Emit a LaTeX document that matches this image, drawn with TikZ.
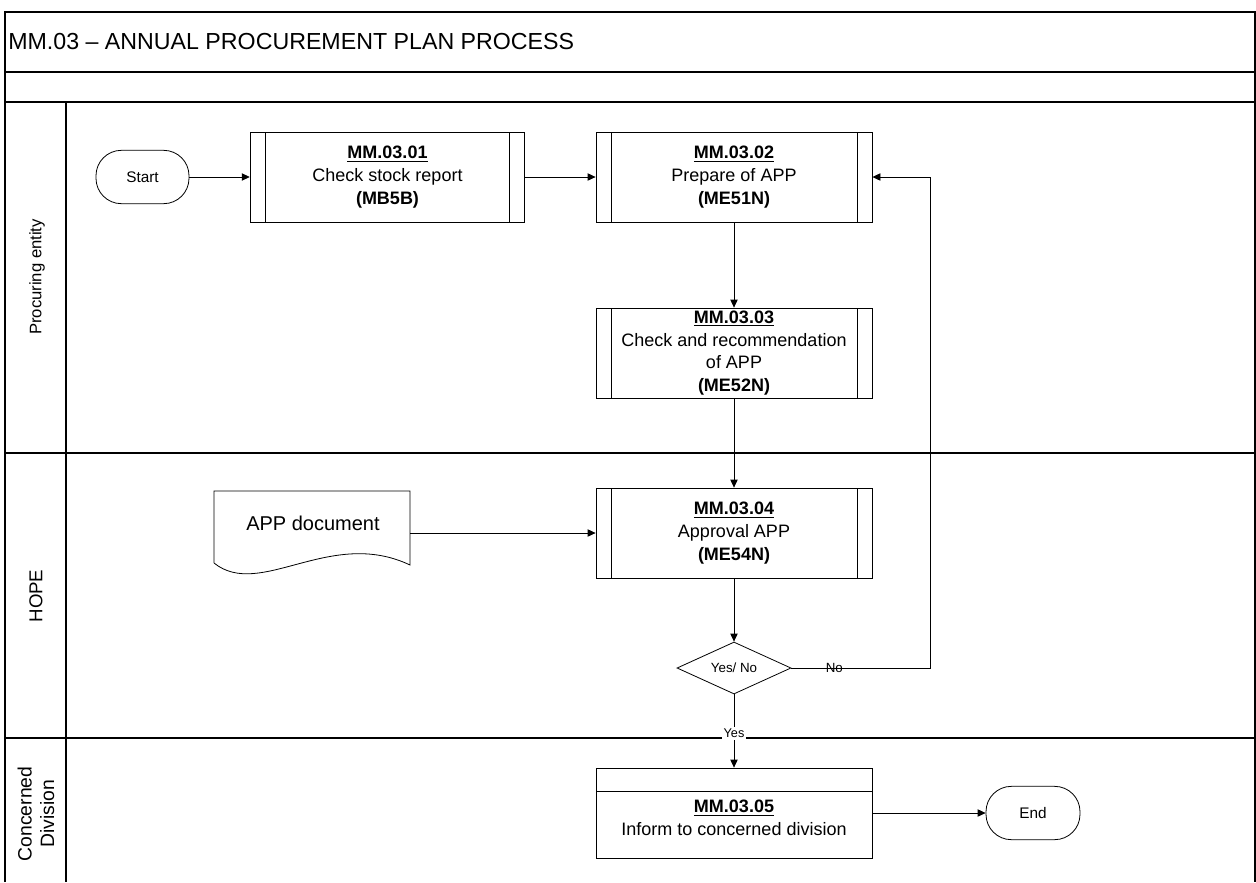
\documentclass[tikz,border=0pt]{standalone}
\usepackage{fontspec}
\setmainfont{Liberation Sans}
\usetikzlibrary{arrows.meta,shapes.geometric}

\tikzset{
  frame/.style={line width=0.8pt},
  shapeline/.style={line width=0.6pt},
  procbox/.style={draw, shapeline, minimum width=207pt, minimum height=67.5pt,
    inner sep=0pt, align=center, font=\fontsize{13.5}{17}\selectfont,
    path picture={
      \draw[shapeline] ([xshift=11.25pt]path picture bounding box.north west)
        -- ([xshift=11.25pt]path picture bounding box.south west);
      \draw[shapeline] ([xshift=-11.25pt]path picture bounding box.north east)
        -- ([xshift=-11.25pt]path picture bounding box.south east);}},
  headbox/.style={draw, shapeline, minimum width=207pt, minimum height=67.5pt,
    inner sep=0pt, align=center, font=\fontsize{13.5}{17}\selectfont,
    path picture={
      \draw[shapeline] ([yshift=-17.25pt]path picture bounding box.north west)
        -- ([yshift=-17.25pt]path picture bounding box.north east);}},
  terminal/.style={draw, shapeline, rounded corners=19pt, minimum width=70pt,
    minimum height=40pt, inner sep=0pt, font=\fontsize{11.5}{14}\selectfont},
  decision/.style={draw, shapeline, diamond, aspect=2.2, minimum width=85.5pt,
    minimum height=39pt, inner sep=0pt, font=\fontsize{10}{12}\selectfont},
  arr/.style={shapeline, -{Triangle[length=6pt,width=5.5pt]}},
  lanelabel/.style={rotate=90, align=center},
  flowlabel/.style={inner sep=1.5pt, font=\fontsize{10}{12}\selectfont},
}

\newcommand{\stepid}[1]{\underline{\textbf{#1}}}

\begin{document}
\begin{tikzpicture}[x=0.75pt,y=-0.75pt]
  \useasboundingbox (0,0) rectangle (1256,882);

  % swimlane frame
  \draw[frame] (5,882) -- (5,12) -- (1255,12) -- (1255,882);
  \draw[frame] (5,72) -- (1255,72);
  \draw[frame] (5,102) -- (1255,102);
  \draw[frame] (5,453) -- (1255,453);
  \draw[frame] (5,738) -- (1255,738);
  \draw[frame] (66,102) -- (66,882);

  \node[anchor=west, inner sep=0pt, font=\fontsize{17.4}{20}\selectfont] (title) at (8,42)
    {MM.03 -- ANNUAL PROCUREMENT PLAN PROCESS};

  % lane names
  \node[lanelabel, font=\fontsize{12.5}{14}\selectfont] (lanePE) at (37,277) {Procuring entity};
  \node[lanelabel, font=\fontsize{14}{16}\selectfont] (laneHOPE) at (36,596) {HOPE};
  \node[lanelabel, font=\fontsize{14.5}{17}\selectfont] (laneCD) at (36,814) {Concerned\\Division};

  % process steps
  \node[terminal, minimum width=69.75pt] (start) at (142.5,177) {Start};
  \node[procbox, minimum width=206pt] (s1) at (387.5,177)
    {\stepid{MM.03.01}\\Check stock report\\\textbf{(MB5B)}};
  \node[procbox] (s2) at (734,177)
    {\stepid{MM.03.02}\\Prepare of APP\\\textbf{(ME51N)}};
  \node[procbox] (s3) at (734,353)
    {\stepid{MM.03.03}\\Check and recommendation\\of APP\\\textbf{(ME52N)}};
  \node[procbox] (s4) at (734,533)
    {\stepid{MM.03.04}\\Approval APP\\\textbf{(ME54N)}};
  \node[decision] (dec) at (734,668) {Yes/ No};
  \node[headbox] (s5) at (734,813)
    {\mbox{}\\\stepid{MM.03.05}\\Inform to concerned division};
  \node[terminal, minimum width=70.5pt] (end) at (1033,813) {End};

  % APP document
  \draw[shapeline] (214,563) -- (214,491) -- (410,491) -- (410,565)
    .. controls (330,527) and (260,600) .. (214,563);
  \node[font=\fontsize{15}{18}\selectfont] (doctext) at (313,523) {APP document};
  \coordinate (doc) at (410,533);

  % connectors
  \coordinate (ret) at (930,668);
  \draw[arr] (start) -- (s1);
  \draw[arr] (s1) -- (s2);
  \draw[arr] (s2) -- (s3);
  \draw[arr] (s3) -- (s4);
  \draw[arr] (doc) -- (doc -| s4.west);
  \draw[arr] (s4) -- (dec);
  \draw[arr] (dec.east) -- node[flowlabel, pos=0.31] {No} (ret) |- (s2.east);
  \draw[arr] (dec.south) -- node[flowlabel, fill=white, pos=0.53,
    font=\fontsize{9.5}{11}\selectfont] {Yes} (s5.north);
  \draw[arr] (s5) -- (end);
\end{tikzpicture}
\end{document}
